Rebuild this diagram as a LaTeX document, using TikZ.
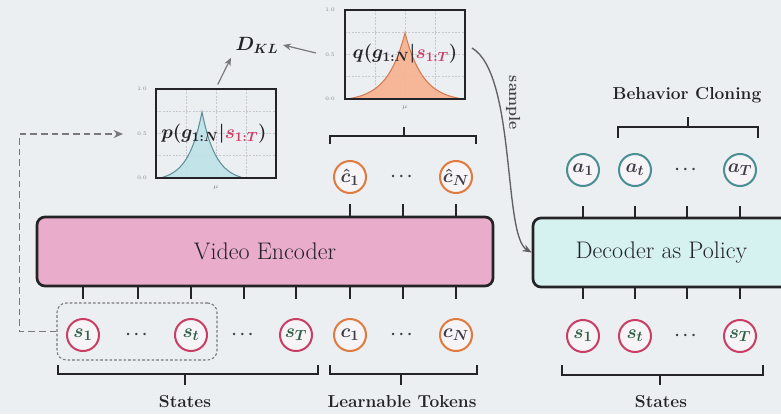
\documentclass[tikz,border=0pt]{standalone}
\usepackage{amsmath,amssymb}
\usetikzlibrary{arrows.meta}

\definecolor{bg}{RGB}{236,239,242}
\definecolor{ink}{RGB}{35,35,40}
\definecolor{encpink}{RGB}{233,172,202}
\definecolor{deccyan}{RGB}{214,242,240}
\definecolor{sred}{RGB}{200,62,100}
\definecolor{corange}{RGB}{224,122,62}
\definecolor{ateal}{RGB}{72,142,148}
\definecolor{sgreen}{RGB}{48,96,70}
\definecolor{tokink}{RGB}{62,62,72}
\definecolor{circfill}{RGB}{246,244,246}
\definecolor{pblue}{RGB}{190,226,232}
\definecolor{pblueline}{RGB}{95,145,155}
\definecolor{qorange}{RGB}{246,178,142}
\definecolor{qline}{RGB}{214,122,82}
\definecolor{gridc}{RGB}{200,200,208}
\definecolor{arrowgray}{RGB}{120,120,125}

\newcommand{\sv}[1]{\textcolor{sgreen}{$\boldsymbol{s_{#1}}$}}
\newcommand{\tv}[2]{\textcolor{tokink}{$\boldsymbol{#1_{#2}}$}}
\newcommand{\hv}[1]{\textcolor{tokink}{$\boldsymbol{\hat{c}_{#1}}$}}
\newcommand{\dotsym}{$\boldsymbol{\cdots}$}

\begin{document}
\begin{tikzpicture}[x=0.75pt,y=-0.75pt,
  circ/.style={circle, minimum size=24pt, inner sep=0pt, line width=1.5pt,
    fill=circfill, font=\fontsize{15}{15}\selectfont},
  scirc/.style={circ, draw=sred},
  ccirc/.style={circ, draw=corange},
  acirc/.style={circ, draw=ateal},
  dotsn/.style={inner sep=0pt, font=\fontsize{13}{13}\selectfont, text=tokink},
  tickln/.style={line width=1.5pt, draw=ink},
  bracket/.style={line width=1.5pt, draw=ink},
  lab/.style={font=\bfseries\fontsize{13}{15}\selectfont, text=ink},
  block/.style={draw=ink, line width=2pt, rounded corners=6pt,
    minimum height=51.75pt, font=\fontsize{18}{20}\selectfont, text=ink},
  plotbox/.style={draw=ink, line width=1.5pt, minimum width=90pt,
    minimum height=66.75pt, inner sep=0pt},
  gridln/.style={draw=gridc, line width=0.4pt, dash pattern=on 1.5pt off 1pt},
  axl/.style={font=\fontsize{4}{4}\selectfont, text=gray, inner sep=0pt},
  plotlab/.style={font=\fontsize{14}{14}\selectfont, text=ink},
  grayarrow/.style={draw=arrowgray, line width=0.9pt, -{Stealth[length=6pt,width=5pt]}},
  fbarrow/.style={draw=arrowgray, line width=1.2pt, dash pattern=on 5pt off 3pt,
    -{Stealth[length=7pt,width=6pt]}},
]
\useasboundingbox (0,0) rectangle (781,414);
\fill[bg] (0,0) rectangle (781,414);
\clip (0,0) rectangle (781,414);

% ---------------- prior p(g|s) ----------------
\begin{scope}[shift={(156,89)}]
  \foreach \gx in {30,60,90} \draw[gridln] (\gx,0) -- (\gx,89);
  \foreach \gy in {22.25,44.5,66.75} \draw[gridln] (0,\gy) -- (120,\gy);
  \fill[pblue, opacity=0.9] plot[domain=-42:42,samples=85]
    ({46+\x},{89-66*(exp(-abs(\x)/14)-0.05)/0.95}) -- cycle;
  \draw[pblueline, line width=0.8pt] plot[domain=-42:42,samples=85]
    ({46+\x},{89-66*(exp(-abs(\x)/14)-0.05)/0.95});
\end{scope}
\node[plotbox] (pplot) at (216,133.5) {};
\node[plotlab] (ptext) at (214,134)
  {$\boldsymbol{p(g_{1:N}|}\textcolor{sred}{\boldsymbol{s_{1:T}}}\boldsymbol{)}$};
\node[axl] (pax1) at (142,89) {1.0};
\node[axl] (pax2) at (142,133.5) {0.5};
\node[axl] (pax3) at (142,178) {0.0};
\node[axl] (paxx) at (216,188) {$\mu$};

% ---------------- posterior q(g|s) ----------------
\begin{scope}[shift={(345,10)}]
  \foreach \gx in {30,60,90} \draw[gridln] (\gx,0) -- (\gx,89);
  \foreach \gy in {22.25,44.5,66.75} \draw[gridln] (0,\gy) -- (120,\gy);
  \fill[qorange, opacity=0.9] plot[domain=-58:58,samples=117]
    ({60+\x},{89-66*(exp(-abs(\x)/18)-0.04)/0.96}) -- cycle;
  \draw[qline, line width=0.8pt] plot[domain=-58:58,samples=117]
    ({60+\x},{89-66*(exp(-abs(\x)/18)-0.04)/0.96});
\end{scope}
\node[plotbox] (qplot) at (405,54.5) {};
\node[plotlab] (qtext) at (405,54)
  {$\boldsymbol{q(g_{1:N}|}\textcolor{sred}{\boldsymbol{s_{1:T}}}\boldsymbol{)}$};
\node[axl] (qax1) at (330,10) {1.0};
\node[axl] (qax2) at (330,54.5) {0.5};
\node[axl] (qax3) at (330,99) {0.0};
\node[axl] (qaxx) at (405,108) {$\mu$};

% ---------------- KL term ----------------
\node[font=\fontsize{14}{14}\selectfont, text=ink] (dkl) at (257,45) {$\boldsymbol{D_{KL}}$};
\coordinate (qtail) at (316,53);
\draw[grayarrow, shorten <=3pt] (pplot.north) -- (dkl.south west);
\draw[grayarrow] (qtail) -- (dkl.east);

% ---------------- encoder ----------------
\node[block, fill=encpink, minimum width=342pt] (enc) at (265,251.5) {Video Encoder};

% posterior tokens
\node[ccirc] (ch1) at (350,177) {\hv{1}};
\node[dotsn] (chd) at (403,177) {\dotsym};
\node[ccirc] (chN) at (456,177) {\hv{N}};
\foreach \n in {ch1,chd,chN} \draw[tickln] (enc.north -| \n) -- ++(0,-12);
\draw[bracket] (330,144) -- (330,136) -- (476,136) -- (476,144);
\draw[bracket] (404,136) -- (404,127);

% input tokens
\node[scirc] (s1) at (83,335) {\sv{1}};
\node[dotsn] (sd1) at (138,335) {\dotsym};
\node[scirc] (st) at (191,335) {\sv{t}};
\node[dotsn] (sd2) at (244,335) {\dotsym};
\node[scirc] (sT) at (296,335) {\sv{T}};
\node[ccirc] (c1) at (350,335) {\tv{c}{1}};
\node[dotsn] (cd) at (403,335) {\dotsym};
\node[ccirc] (cN) at (456,335) {\tv{c}{N}};
\foreach \n in {s1,sd1,st,sd2,sT,c1,cd,cN} \draw[tickln] (enc.south -| \n) -- ++(0,12);

% window of observed states fed to the prior
\node[draw=arrowgray, line width=0.8pt, dash pattern=on 2pt off 1.5pt,
  rounded corners=7pt, minimum width=120pt, minimum height=42.75pt] (win) at (137,331.5) {};
\coordinate (pin) at (123,134);
\draw[fbarrow] (win.west) -- ++(-37,0) |- (pin);

% brackets under the encoder inputs
\draw[bracket] (58,365) -- (58,374) -- (318,374) -- (318,365);
\draw[bracket] (185,374) -- (185,385);
\draw[bracket] (330,365) -- (330,374) -- (477,374) -- (477,365);
\draw[bracket] (401,374) -- (401,385);
\node[lab] (lstates) at (185,402) {States};
\node[lab] (ltokens) at (402,402) {Learnable Tokens};

% ---------------- decoder ----------------
\node[block, fill=deccyan, minimum width=192.75pt] (dec) at (661.5,252.5) {Decoder as Policy};

\node[acirc] (a1) at (583,170) {\tv{a}{1}};
\node[acirc] (at) at (635,170) {\tv{a}{t}};
\node[dotsn] (ad) at (687,170) {\dotsym};
\node[acirc] (aT) at (740,170) {\tv{a}{T}};
\foreach \n in {a1,at,ad,aT} \draw[tickln] (dec.north -| \n) -- ++(0,-11);

\node[scirc] (r1) at (583,336) {\sv{1}};
\node[scirc] (rt) at (635,336) {\sv{t}};
\node[dotsn] (rd) at (687,336) {\dotsym};
\node[scirc] (rT) at (740,336) {\sv{T}};
\foreach \n in {r1,rt,rd,rT} \draw[tickln] (dec.south -| \n) -- ++(0,11);

\draw[bracket] (618,138) -- (618,127) -- (758,127) -- (758,138);
\draw[bracket] (688,127) -- (688,117);
\node[lab] (lbc) at (687,95) {Behavior Cloning};

\draw[bracket] (562,365) -- (562,375) -- (763,375) -- (763,365);
\draw[bracket] (660,375) -- (660,385);
\node[lab] (rstates) at (661,402) {States};

% ---------------- sampling from the posterior ----------------
\coordinate (qout) at (472,48);
\draw[draw=arrowgray!80!black, line width=1pt, -{Stealth[length=7pt,width=5.5pt]}]
  (qout) .. controls (516,74) and (503,236) .. (dec.west);
\node[rotate=-90, font=\bfseries\fontsize{12}{12}\selectfont, text=ink!85] (lsample) at (513,103) {sample};

\end{tikzpicture}
\end{document}
